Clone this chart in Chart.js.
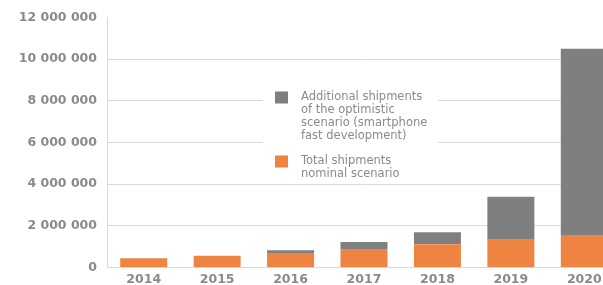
<!DOCTYPE html>
<html>
<head>
<meta charset="utf-8">
<script src="https://cdn.jsdelivr.net/npm/chart.js@4"></script>
<style>
  html, body { margin: 0; padding: 0; background: #fff; overflow: hidden; }
  #wrap { width: 621px; height: 285px; }
</style>
</head>
<body>
<div id="wrap"><canvas id="Chart1"></canvas></div>
<script>
const years = ['2014', '2015', '2016', '2017', '2018', '2019', '2020']
const nominal = [450000, 560000, 700000, 890000, 1120000, 1330000, 1560000]
const additional = [0, 0, 130000, 340000, 570000, 2070000, 8940000]
const nominalLines = ['Total shipments', 'nominal scenario']
const additionalLines = ['Additional shipments', 'of the optimistic', 'scenario (smartphone', 'fast development)']
const yTicks = [0, 2000000, 4000000, 6000000, 8000000, 10000000, 12000000]

const orange = '#ef8442'
const grey = '#7f7f7f'
const textGrey = '#8a8a8a'

const fmt = v => String(v).replace(/\B(?=(\d{3})+(?!\d))/g, ' ')

// legend drawn inside the plot on a white box, like the original
const boxLegend = {
  id: 'boxLegend',
  afterDatasetsDraw(chart) {
    const { ctx, chartArea } = chart
    const x0 = chartArea.left + 156
    const y0 = chartArea.top + 67
    ctx.save()
    ctx.fillStyle = '#fff'
    ctx.fillRect(x0, y0, 175, 97)
    ctx.font = '11.5px "DejaVu Sans"'
    ctx.textBaseline = 'middle'
    const items = [
      { color: grey, lines: additionalLines, y: y0 + 13 },
      { color: orange, lines: nominalLines, y: y0 + 77 }
    ]
    items.forEach(it => {
      ctx.fillStyle = it.color
      ctx.fillRect(x0 + 12, it.y - 6, 13, 12)
      ctx.fillStyle = textGrey
      it.lines.forEach((t, i) => ctx.fillText(t, x0 + 38, it.y + i * 12.7))
    })
    ctx.restore()
  }
}

const ctx1 = document.getElementById('Chart1')
new Chart(ctx1, {
  type: 'bar',
  data: {
    labels: years,
    datasets: [
      {
        label: nominalLines.join(' '),
        data: nominal,
        backgroundColor: orange,
        barPercentage: 0.64,
        categoryPercentage: 1
      },
      {
        label: additionalLines.join(' '),
        data: additional,
        backgroundColor: grey,
        barPercentage: 0.64,
        categoryPercentage: 1
      }
    ]
  },
  options: {
    responsive: true,
    maintainAspectRatio: false,
    animation: false,
    layout: { padding: { top: 17, right: 0, left: 0, bottom: 0 } },
    plugins: {
      legend: { display: false },
      tooltip: { enabled: false }
    },
    scales: {
      x: {
        stacked: true,
        grid: { display: false },
        border: { display: true, color: '#d9d9d9' },
        ticks: {
          color: textGrey,
          font: { family: 'DejaVu Sans', size: 12.5, weight: 'bold' },
          padding: -3
        },
        afterFit: s => { s.height = 17.3 }
      },
      y: {
        stacked: true,
        min: 0,
        max: 12000000,
        afterBuildTicks: s => { s.ticks = yTicks.map(v => ({ value: v })) },
        grid: {
          drawTicks: false,
          color: c => c.tick && c.tick.value === 12000000 ? 'rgba(0,0,0,0)' : '#d9d9d9'
        },
        border: { display: true, color: '#d9d9d9' },
        ticks: {
          color: textGrey,
          font: { family: 'DejaVu Sans', size: 12.5, weight: 'bold' },
          padding: 10,
          callback: v => fmt(v)
        },
        afterFit: s => { s.width = 107 }
      }
    }
  },
  plugins: [boxLegend]
})
</script>
</body>
</html>
